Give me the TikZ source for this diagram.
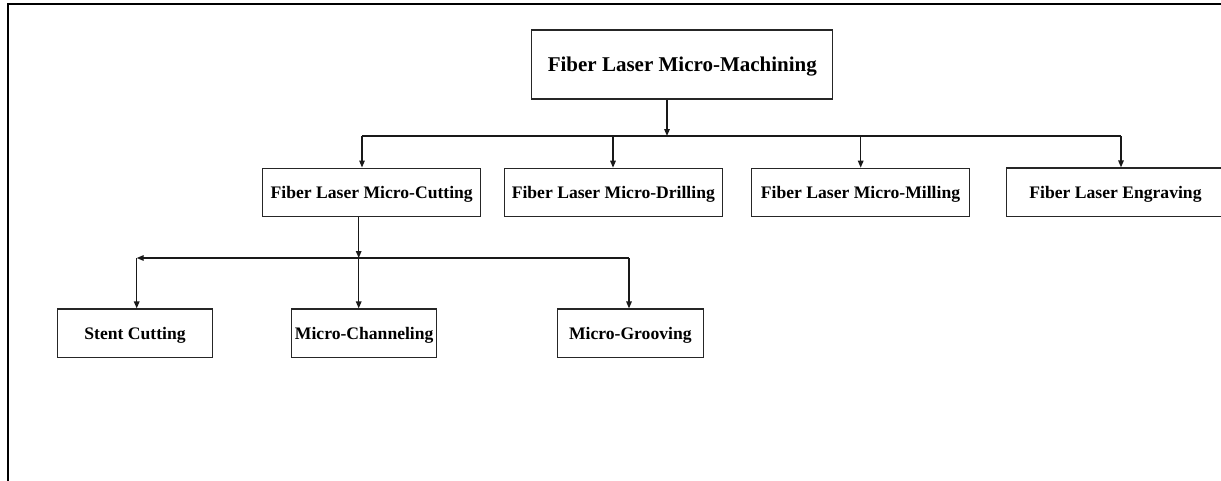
\documentclass[tikz,border=0pt]{standalone}
\usepackage{fontspec}
\setmainfont{Liberation Serif}
\usetikzlibrary{arrows.meta}
\begin{document}
\begin{tikzpicture}[x=1pt,y=-1pt,
  box/.style={draw=black!85,line width=1.1pt,fill=white,inner sep=0pt,
    minimum height=48.5pt,text height=11.6pt,text depth=0pt,
    font=\bfseries\fontsize{17.6}{20}\selectfont},
  rootbox/.style={box,minimum height=69pt,minimum width=301pt,
    text height=13.9pt,font=\bfseries\fontsize{21}{24}\selectfont},
  conn/.style={line width=1.4pt,draw=black!90},
  arr/.style={conn,-{Triangle[length=7pt,width=5.5pt]}}]
\useasboundingbox (0,0) rectangle (1221,480);
\clip (0,0) rectangle (1221,480);
\fill[white] (0,0) rectangle (1221,480);
% outer frame
\draw[line width=1.6pt] (8,482) -- (8,4) -- (1225,4);
% nodes
\node[rootbox] (root) at (682.3,64.5) {Fiber Laser Micro-Machining};
\node[box,minimum width=218pt] (cut) at (371.7,192.3) {Fiber Laser Micro-Cutting};
\node[box,minimum width=218pt] (drill) at (613.3,192.5) {Fiber Laser Micro-Drilling};
\node[box,minimum width=217.6pt] (mill) at (860.5,192.5) {Fiber Laser Micro-Milling};
\node[box,minimum width=260pt] (engr) at (1136.7,192.2) {\hspace*{-42.4pt}Fiber Laser Engraving};
\node[box,minimum width=155.4pt] (stent) at (135,333.2) {Stent Cutting};
\node[box,minimum width=145pt] (chan) at (364.2,333.2) {Micro-Channeling};
\node[box,minimum width=146pt] (groove) at (630.3,333.2) {Micro-Grooving};
% bus junctions
\coordinate (j0) at (667,136);
\coordinate (j1) at (362,136);
\coordinate (j2) at (613,136);
\coordinate (j3) at (860.7,136);
\coordinate (j4) at (1121,136);
\coordinate (k0) at (358.7,258);
\coordinate (k1) at (136.7,258);
\coordinate (k3) at (629,258);
% level 1 -> level 2
\draw[arr] (root.south -| j0) -- (j0);
\draw[conn] (j1) -- (j4);
\draw[arr] (j1) -- (j1 |- cut.north);
\draw[arr] (j2) -- (j2 |- drill.north);
\draw[arr] (j3) -- (j3 |- mill.north);
\draw[arr] (j4) -- (j4 |- engr.north);
% level 2 -> level 3
\draw[arr] (cut.south -| k0) -- (k0);
\draw[arr] (k3) -- (k1);
\draw[arr] (k1) -- (k1 |- stent.north);
\draw[arr] (k0) -- (k0 |- chan.north);
\draw[arr] (k3) -- (k3 |- groove.north);
\end{tikzpicture}
\end{document}
